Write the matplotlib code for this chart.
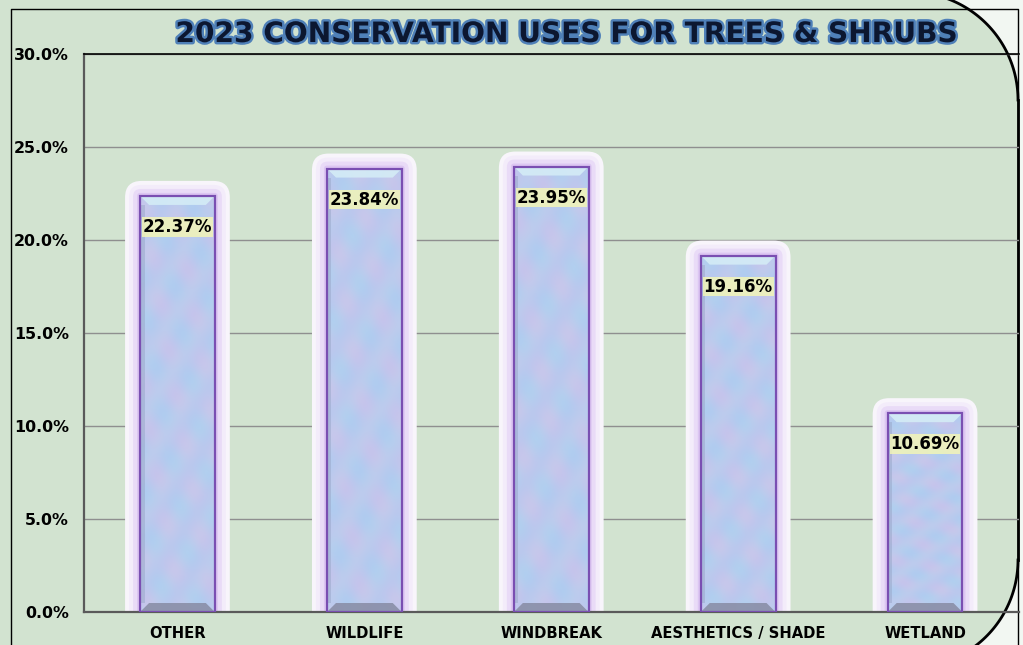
import numpy as np
import matplotlib
matplotlib.use("Agg")
import matplotlib.pyplot as plt
import matplotlib.patheffects as pe
from matplotlib.patches import Polygon, FancyBboxPatch, Rectangle

categories = ["OTHER", "WILDLIFE", "WINDBREAK", "AESTHETICS / SHADE", "WETLAND"]
shares = [22.37, 23.84, 23.95, 19.16, 10.69]
yticks = [0, 5, 10, 15, 20, 25, 30]
title = "2023 CONSERVATION USES FOR TREES & SHRUBS"

W, H = 1023, 645
GREEN = "#d2e3d0"
fig = plt.figure(figsize=(W / 100, H / 100), dpi=100, facecolor="#f2f7f2")

# background: green panel with rounded right corners, frame lines
bg = fig.add_axes([0, 0, 1, 1], zorder=0)
bg.set_xlim(0, W)
bg.set_ylim(H, 0)
bg.axis("off")
r = 108
t = np.linspace(0, np.pi / 2, 60)
top_arc = np.column_stack([910 + r * np.sin(t), 100 - r * np.cos(t)])
bot_arc = np.column_stack([910 + r * np.cos(t), 560 + r * np.sin(t)])
shape = np.vstack([[[-20, -20], [910, -20]], top_arc, bot_arc, [[-20, 680]]])
bg.add_patch(Polygon(shape, closed=True, facecolor=GREEN, edgecolor="none"))
bg.plot(top_arc[:, 0], top_arc[:, 1], color="black", lw=2)
bg.plot([1018, 1018], [100, 560], color="black", lw=2)
bg.plot(bot_arc[:, 0], bot_arc[:, 1], color="black", lw=2)
bg.plot([11, 11, 1018, 1018], [H + 5, 9, 9, H + 5], color="black", lw=1)

# main chart
ax = fig.add_axes([84 / W, (H - 612) / H, (1018.5 - 84) / W, (612 - 54) / H], zorder=1)
ax.set_facecolor("none")
n = len(categories)
x = np.arange(n)
ax.set_xlim(-0.5, n - 0.5)
ax.set_ylim(0, 30)

ax.set_yticks(yticks)
ax.set_yticklabels([f"{v:.1f}%" for v in yticks], fontsize=11.4, fontweight="bold")
ax.set_xticks(x)
ax.set_xticklabels(categories, fontsize=10.6, fontweight="bold")
ax.tick_params(axis="y", length=0, pad=11)
ax.tick_params(axis="x", length=0, pad=10)
ax.set_axisbelow(True)
ax.yaxis.grid(True, color="#8f8f8f", lw=1)
for s in ["left", "bottom"]:
    ax.spines[s].set_color("#5a5a5a")
    ax.spines[s].set_linewidth(1.6)
ax.spines["top"].set_color("black")
ax.spines["top"].set_linewidth(1.2)
ax.spines["right"].set_visible(False)

bw = 0.4
px_x = (1018.5 - 84) / n          # pixels per x unit
px_y = (612 - 54) / 30.0          # pixels per percent
asp = px_x / px_y

# soft blotchy texture for the bar faces
gx, gy = np.meshgrid(np.linspace(0, 1, 60), np.linspace(0, 1, 300))
blue = np.array([0.69, 0.80, 0.94])
pink = np.array([0.80, 0.76, 0.92])
cyan = np.array([0.72, 0.85, 0.93])

for i, v in enumerate(shares):
    x0, x1 = i - bw / 2, i + bw / 2
    # glow around each bar
    for pad_px, col in [(15, "#f8f5fb"), (11, "#f3ecfa"), (7, "#e9dbf7"), (3, "#dcc6f2")]:
        p = pad_px / px_x
        ax.add_patch(FancyBboxPatch((x0, -2), bw, v + 2,
                                    boxstyle=f"round,pad={p},rounding_size={p * 1.1}",
                                    mutation_aspect=asp, facecolor=col,
                                    edgecolor="none", zorder=1))
    face = Rectangle((x0, 0), bw, v, facecolor="#b8c6ec", edgecolor="none", zorder=2)
    ax.add_patch(face)
    w1 = 0.5 + 0.5 * np.sin(gx * 9 + gy * 37 + i * 1.7) * np.cos(gy * 23 - gx * 5 + i)
    w2 = 0.5 + 0.5 * np.sin(gx * 14 - gy * 51 + i * 2.3)
    img = (blue * (1 - w1[..., None]) + pink * w1[..., None]) * 0.75 + cyan * 0.25 * w2[..., None] \
        + blue * 0.25 * (1 - w2[..., None])
    im = ax.imshow(np.clip(img, 0, 1), extent=(x0, x1, 0, v), aspect="auto",
                   origin="lower", zorder=2, interpolation="bilinear")
    im.set_clip_path(face)
    # bevels
    bx = 9 / px_x
    by = 9 / px_y
    ax.add_patch(Polygon([[x0, v], [x1, v], [x1 - bx, v - by], [x0 + bx, v - by]],
                         facecolor="#d4ecf6", edgecolor="none", alpha=0.9, zorder=3))
    ax.add_patch(Polygon([[x0, 0], [x1, 0], [x1 - bx, by], [x0 + bx, by]],
                         facecolor="#8a8fa8", edgecolor="none", alpha=0.9, zorder=3))
    ax.add_patch(Polygon([[x0, by], [x0 + bx * 0.5, by], [x0 + bx * 0.5, v - by], [x0, v - by]],
                         facecolor="#98a6c8", edgecolor="none", alpha=0.5, zorder=3))
    ax.add_patch(Rectangle((x0, 0), bw, v, facecolor="none", edgecolor="#7a4fb2",
                           lw=1.6, zorder=4))
    ax.annotate(f"{v:.2f}%", (i, v), xytext=(0, -31), textcoords="offset pixels",
                ha="center", va="center", fontsize=12, fontweight="bold", color="black",
                zorder=5,
                bbox=dict(boxstyle="square,pad=0.05", facecolor="#f6f8b4",
                          edgecolor="none", alpha=0.8))

fig.text(566 / W, 1 - 34 / H, title, ha="center", va="center", fontsize=20.2,
         fontweight="bold", color="#0c1730", zorder=5,
         path_effects=[pe.withStroke(linewidth=3.5, foreground="#4f80b8")])

fig.savefig("out.png", dpi=100, facecolor=fig.get_facecolor())
